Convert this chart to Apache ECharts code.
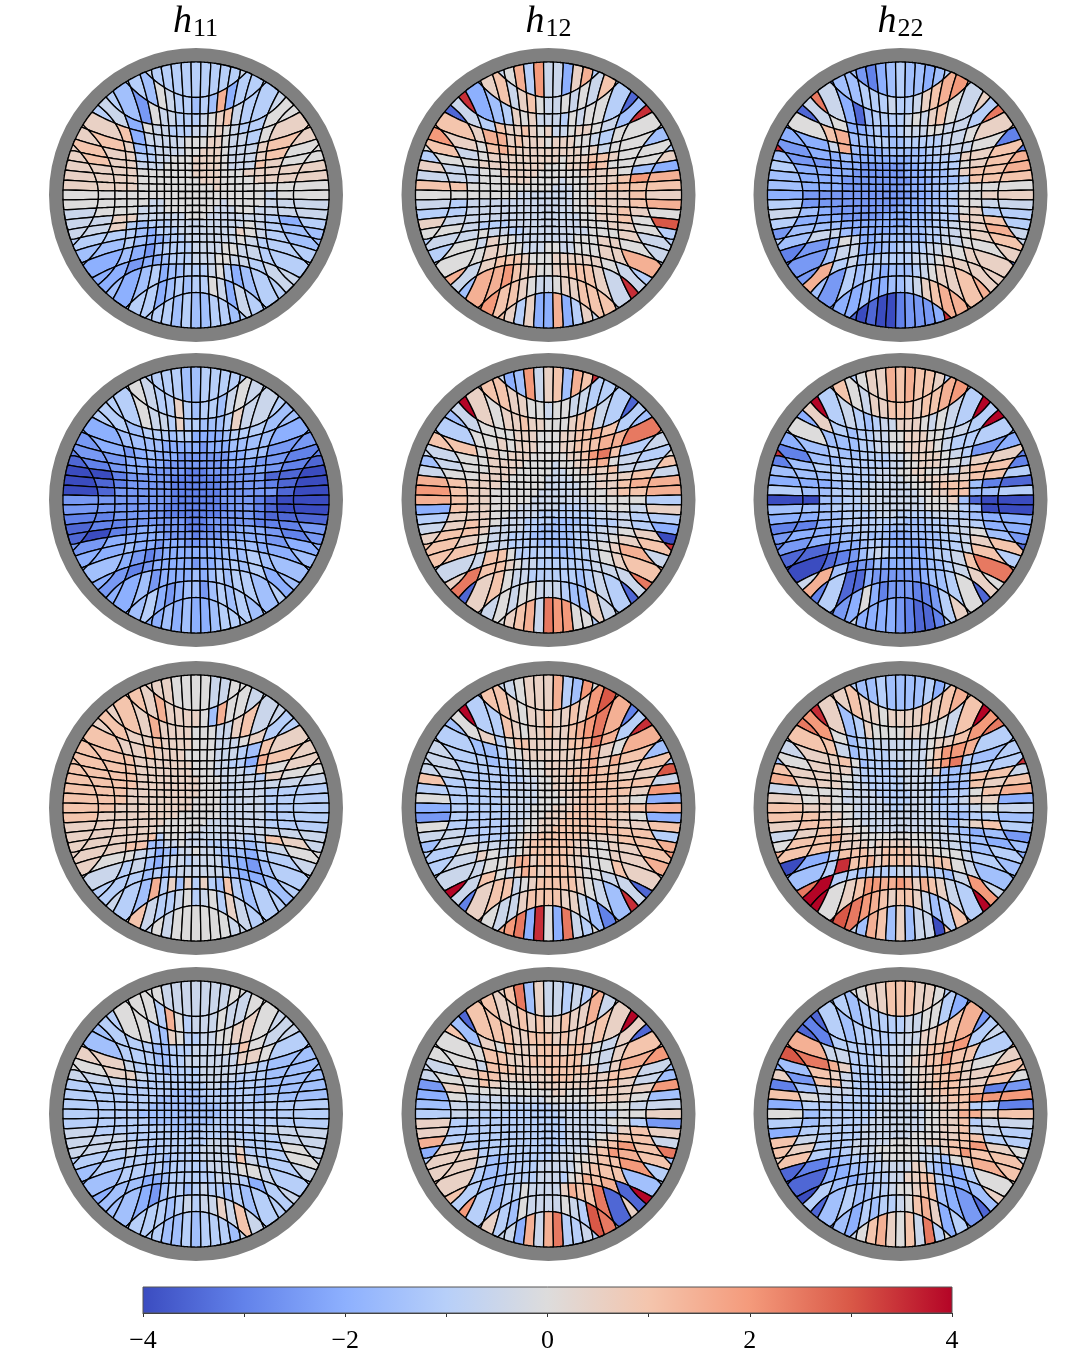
<!DOCTYPE html>
<html>
<head>
<meta charset="utf-8">
<script src="https://cdn.jsdelivr.net/npm/echarts@6/dist/echarts.min.js"></script>
<style>
  html, body { margin: 0; background: #fff; }
  #chart { width: 1065px; height: 1349px; }
</style>
</head>
<body>
<div id="chart"></div>
<script>
// cell values, rows top to bottom, left to right, only the cells inside the disk
// one letter per cell: a = -4, b = -3.5 ... i = 0 ... q = 4
const levels = 'abcdefghijklmnopq'

const h11_a = ['hgggggggggh','ggfihggfgfleggg','gfdihhggghijkhggh','gheihhggghhijihggii','jjkehhhhhiiijjihhgijk','jkjfghhhhiijjjihhhjkj',
  'jkjjgghhiiijjjjihhhjkii','jkjjhhhiiiijjjjihhhkjii','jjjjiiiiiiijjjjiiijjjjj','jjjjiiiiiiiijjjiiiijjjj','jjjjiiiiiiiiiijiiiiiiii','iiiiiiiiiiiiiiiiiiiihii',
  'iiiiihhiiiiiiiihiiiihhh','hiiihhhiiiiiiihhhiihhhh','hhjjhhhhhhiiihhhhhhhgeg','hhjgfggghhhhhhhhhhihgff','ggggfeggghhhhhhhhjihgff',
  'ffgfeefgghhhhhhhihggg','fefedfgggghhhhiihhggh','eedeefggghhhiihhghh','fefgeffggghigefgg','fggefgfggihehgg','gggfgffggfg']
const h12_a = ['hilgmhhejlg','gjkhjkihhihihkg','pefgjijhhhgihiigb','bhgkjjkjijhhijjihfp','lkjlljkjjjijjjiihgiii','mjiklkjjjjjjjjjijhiif',
  'ikhijjjjjjjjjijjjkkjiig','giijjjjjjjjiiijjjlkiiij','jhhiijjjjjiiiiiijjjjife','hhhiiijjjiiiihiiijjjkml','kkiiiiiiiiiihhhiijjkkkk','iiiiiiihhhhhhhhiiijjjkj',
  'hghhhhhhhhhhhhhiijjjjkl','gghhhhhhhhhhhhhiiijjkji','jhhhhhhhhhhhhhhhiijjkio','iihggghhhhhhhhhhiiijjig','ghhihhgghhhhhhhhhiiijhg',
  'gihjiihhhhhhhhiiijjih','hiijjiihhhiihhiiijjlh','lhjkkkjiiijjjjjjihg','fllmkjjiijjkkkjhp','lmkkjihhijjkkkh','kjgjeelegjh']
const h22_a = ['fdcefgffefg','cffggghgghjklmj','nhebfgggghihjkihj','bhieefgffghhhiihhgn','diklfffggffggggghhijk','eehlfeeeffffffgghhhic',
  'pdeefeeeeeeeefffgggjjkc','fddeeeddddddeefffggijkl','geeeedddddddeeefffgjkkl','feeedddddddddeeefffgkkk','feeeddddddddeeeffgghiii','eddddddddddddeeeffgiijj',
  'gdddddddddddeeeffggiihh','hfeddddddddeeeeffggijgg','geeedddddeeeefffgggjjkg','dfffeeeeeeeeefffgghijlh','gfhhfeeeeeeffffgghhijkh',
  'cdfiheefffffffgghhiij','cdfhheeeffgggghhiijjc','dlghfgggggghhhijjjj','fdgfgfefffghijjkl','feefeeffghjkllm','babaacdddep']

const h11_b = ['ggggffggggg','hihggjgfggfhihg','ggihhgjggfffgjhhg','ggfgggfggeeeefgggff','eeffffeeeeedeeeffffee','dedefeeedddddddeeffdd',
  'cddeeeedddddddddeeeddcc','bcdeedddddcccddddddedcb','aacdddddcccccccdddddbba','abcdddddcccccccdddddcba','abddddddcccccccddddddba','ddddddddcccccccddddcbaa',
  'dddddddcccccccccdddcbaa','ccdddddccccccccddddcbbb','bccdddddddcccddddddcccd','bacdeeddddccccdddeeedcd','ddeeeeeddddcdddeeeeedee',
  'eefeedeeedddeeefffeef','efedcdeeeeeeeefffgffe','edcdeeeeedeeffgfgef','eefdeeeefefgfggfg','efgedeffdfgfgfg','eefefeefggg']
const h12_b = ['hefmhjkflkp','gkkjjiihiihhggg','qjijjkjjiiijkkhgb','fhiiijjjiiijjkklkgf','hgiijijjjiiijjkkkllnk','kkijijjjiiiiijjkmnkgh',
  'hhiijjjjiiiihiijjklihgi','fhiijjjiiiiihhiijjjkhhk','hiijjjiiiiihhhhiiijjjkh','lkjjjiiiiiihhhhhiijjkll','mkjjiiiiiihhhhhhiiijkkl','lkjjiiiiihhhhhhhhiiiiig',
  'ekjjiiihhhhhhggghhhiihj','gjjjiihhhhgggggggghhhgg','hjkjihhhggggffffgggghge','jkkjhhhhggfffffggghhija','kkjihhgggffffffgghhijkp',
  'kkihhggggfffffgghijlh','hhhkkigggggfffgghijkl','jnkkjihhggggggghhhn','bjkihhggggggfghgb','hhihiihhhgffjhh','ijklhnmmiig']
const h22_b = ['gijjlklkkjg','jkihjjkkkjkklmh','qghgfghhjjjihihgq','ejgfgghhiijjjiihhgq','gifffgghhiijjjjihgggf','efgffgggghhijjjjihgde',
  'pcffgggggghhiijjjiihjjc','cfgggggghhhiijjiiihjkkc','fffggggghhhhiijjjjjjkkg','eeefggghhhhhhiiijkkkfcb','gffggghhhhhhhhiijjkkffg','aaffgghhhhhhhhhiiijfbaa',
  'fffgggghhhhhhhhiiiigfaa','eeffgggghhhggggghhhgfee','ccefggggggggfffgggghgee','deeffggggfffffffgghhifd','cdeeffgfffeeeffffgghjkb',
  'bbdeefggfeeeeeffgghkg','aabcdfghgfeeeefgghknl','hlfcddfeeeeeeffghji','cgbbeddddddeffgib','bdeiecdddccdgjh','heeeedcbbcg']

const h11_c = ['jjjiiiihhii','jkjljjjjifliihh','jkjljjjjiiihhjkhh','jkjjkjjjjiiihhhijgg','kkjjkjjjjiiiihhhgfkji','kkkjjjjjjjiiihhggelkj',
  'kkkkjjjjjjjiiihhhhgkijj','kkkkjjjjjjjjiiihhhhgjii','kkkkjjjjjjjjiiihhhhhhhh','kkkjjjjjjjjjiiihhhhhggg','kkkjjjjjjjjiiiihhhhhggg','kkjjjjjjjjjiiiihhhhhggg',
  'kjjjjjjjjiiiiiihhhhhggg','jjjjjjjiiiiiihhhhhhhggg','jjjjjjiiiiiihhhhhhhhhhh','jjjjjkgiiihhhhhhhhghkjh','jjjkkffhhihhhgggggfghii',
  'jiihgeffhhihhgfffeggh','hhghfeghhghhhhffedfgh','gggfgfghhhhhhgfeefg','hgflgjfjgjgfkgfgg','ikhgghighigjhgh','hihiiiiiihh']
const h12_c = ['hhijjjlgfmi','dkkjijjkjjkjmoj','qggkjijjkjjklmnlc','fijgikkjjjjjkklnlgp','hgffgiijjjjjjjkkljilg','hggfgghiiijjjjjkljlkf',
  'hhggggghhiijjjkkklkkjkg','hhgggggghhiijjjkkkkkjjo','kggggghhhhiijjjjkkkkkkh','gggggghhhhiiijjjkkkkkjm','igggghhhhhiiiijjkkkkjie','eggggghhhiiijjjkkkkkkkl',
  'dggggghhhiijjjkkkkkjjie','iggggghhiijjjkkkkkkkjjk','hhgggghhiijjkkkkkkkkkkg','fhhggghijjkkkkkkjjjjkkl','ggihhhhijkkkkkkjjiijjkm',
  'ghjihhijkkkkkkjjiijjl','hhhiijlljkkkkjjiiikjh','qhkihjlkjkkkkjiihhb','cjkkhijkkkkkjihfp','nihhjkkkkjjhfck','lmnepienhgi']
const h22_c = ['gffgffffgeg','kjkjjijjjjkjklk','pjfgjiiiijjiiihkq','nmifgghhhhhhhijjkmn','hkkhfgggghhhhhikmmlgg','hjjkifggggghhhjkmngfg',
  'fijjjhggggghhhhhjfffggp','kjjjihgggggghhhhggfgkkh','ljjjihhggggghhhhgfffkjk','hiiihhhhggggghhhgfggikl','jijihhhhhgggghhhggghjje','kjjiihhhhhgghhhhgggghih',
  'kkjjihhhhhhhhhhhhgffggf','jkkjiihhhhhhhhhhhhfhjkg','hjkkjiihhhhhhhhhhhgfefd','ikkljjiiiiiiiiiihhhgfef','lkkkjjjijjjjjiiiihhgfge',
  'aegkkkjjkkkkjjjiiihgf','ffgpkkljkkkkjjjkkihfe','nqggfgggghhggggfhmh','qijkmmllmljlkjhgq','qonmlkjkkjhfgkl','hflkfjfhhak']

const h11_d = ['iihhhhhhhii','hiiglighhhihhii','giigfjigghhiijjih','fgggffggghhhhihkihh','hfgggffgghhhhhhhjjigg','jjhgggfgggghhhhhhhgff',
  'iijjhggggggghhhhhgggfff','hhhhggggggggghhgggggfff','ggggggggffffgggggggffff','ggggggfffffffggggggfgff','gggggffffffffffgggggggg','ggggfffffffffffgggggggg',
  'gggggfffffffffggggggggg','hgggggggffffgggggggghhh','hhhggggggggggggghgggghh','hhhhggggggggghhhhhgggih','ggghgfgggggghhhhhjgggih',
  'fgggggfgggghhhhhkhggh','efggfgfggggghhhhiihgh','effeefgggggghhhgegh','ffedfggfghggfgfgg','ggggfghghhjhkhg','ggffgfgggfh']
const h12_d = ['jknfjhhghgl','kkjjkjkjjkjjlhi','bkkkjjkkkjkjkjkjq','kfjikjjjkkkjkkkihjb','iiikkjjjkkkkkkkiihjkj','iihkkkjjjjkkkkkkjhjlm',
  'hhjkkjjjjjjjkkkjjjjkkhf','hiikjiiiiijjjjjjjjjkjhf','djiiiiiiiiiijjiiijjjjjm','eihhhhhhhhhiiiiiiijjjif','fhhhhhgggggghhhhhiiiihh','ghhgggggggggghhhhhhhiij',
  'jggggggggggggghhhhhiigd','jggggggggggggghhhhhhjkj','lggggggggggggghhhhijkkh','ejgggggggggggghhhijkmkn','gjjgggggggggghhhhjkmlkf',
  'jjhffgggggghhhiijkkmg','kjgffgggghhhhhijkkkfg','kgffgggghhhgijlklbq','mgfggihhhhjlkknbj','ejgfihhhhihgoni','hhelhlngghg']
const h22_d = ['iijjkkkjjig','fgfggggghhiiged','bgfggggghhhjjkkld','bcgggggghhhijkklmgh','klhhggghhhhijjkkmkkgl','onljgggghhhiijjkkkjij',
  'efkjhgggghhhiijjkkljjkk','jdkkhggggghhhijjkkkjjki','cfhhhggggghhhiijjkkkkcd','kihhggggghhhhiiijjkkmmm','eggggggghhhhhhhiijjkggc','ifgggggghhhhhhhiijjlljk',
  'gfggggghhhhhhhhiijjkghh','eggggghhhhhhhhhiijjkhhg','khgggghhhhhhhiiiijjkkgg','kjggghhhhhiiiiijjjkkmji','jkgfghhhiiiiiihhhjkmkkh',
  'bcefgghhiiiiihhgfijlk','abeeffgghhhhjjgfeegij','agfefggghhjjkkgfefj','bfgffgghiijkkfedb','cfegfgghikljegh','hikljikhngi']

const panelRows = [
  [h11_a, h12_a, h22_a],
  [h11_b, h12_b, h22_b],
  [h11_c, h12_c, h22_c],
  [h11_d, h12_d, h22_d]
]
const titleNums = ['11', '12', '22']
const tickLabels = ['−4', '−2', '0', '2', '4']
const coolwarm = ['#3b4cc0', '#6282ea', '#8db0fe', '#b7cff9', '#dddcdc', '#f4c5ad', '#f49a7b', '#d95847', '#b40426']

// mesh lines, in disk radii: where each line crosses the axis and where it meets the rim
const lineAxis = [3.5, 10.5, 17.5, 24.5, 31.5, 39, 47, 58, 69, 81, 97.5].map(v => v / 133)
const lineRim = [5, 15, 25, 35, 45, 56, 68, 83, 98, 113, 123].map(v => v / 133)
const linePower = [2, 2, 2, 2.2, 2.4, 2.4, 2.4, 2.4, 4, 2.4, 2]
const lineReach = lineRim.map(v => Math.sqrt(1 - v * v))
const OUTER = 1.3

// k = +-1..+-12, +-12 is a straight line outside the disk
function curve(k, t) {
  const n = Math.abs(k) - 1
  const s = Math.sign(k)
  if (n >= 11) return s * OUTER
  const a = Math.min(Math.abs(t), lineReach[n]) / lineReach[n]
  return s * (lineAxis[n] + (lineRim[n] - lineAxis[n]) * Math.pow(a, linePower[n]))
}

function corner(kx, ky) {
  let x = curve(kx, 0)
  let y = curve(ky, 0)
  for (let it = 0; it < 80; it++) {
    x = 0.7 * x + 0.3 * curve(kx, y)
    y = 0.7 * y + 0.3 * curve(ky, x)
  }
  return [x, y]
}

function lineIndex(c) {
  // boundary to the left of cell c (0..22) is c, right is c + 1, in 0..23
  return c < 12 ? c - 12 : c - 11
}

function clampToDisk(p) {
  const r = Math.hypot(p[0], p[1])
  return r > 1 ? [p[0] / r, p[1] / r] : p
}

function cellOutline(col, row) {
  const x0 = lineIndex(col), x1 = lineIndex(col + 1)
  const y0 = -lineIndex(row), y1 = -lineIndex(row + 1)
  const a = corner(x0, y0), b = corner(x1, y0), c = corner(x1, y1), d = corner(x0, y1)
  const pts = []
  const steps = 10
  for (let i = 0; i < steps; i++) {
    const f = i / steps
    const tx = a[0] + (b[0] - a[0]) * f
    pts.push([tx, curve(y0, tx)])
  }
  for (let i = 0; i < steps; i++) {
    const f = i / steps
    const ty = b[1] + (c[1] - b[1]) * f
    pts.push([curve(x1, ty), ty])
  }
  for (let i = 0; i < steps; i++) {
    const f = i / steps
    const tx = c[0] + (d[0] - c[0]) * f
    pts.push([tx, curve(y1, tx)])
  }
  for (let i = 0; i < steps; i++) {
    const f = i / steps
    const ty = d[1] + (a[1] - d[1]) * f
    pts.push([curve(x0, ty), ty])
  }
  return pts.map(clampToDisk)
}

const renderCell = (params, api) => {
  const outline = cellOutline(api.value(0), api.value(1))
  return {
    type: 'polygon',
    shape: { points: outline.map(p => api.coord(p)) },
    style: { fill: api.visual('color'), stroke: '#000', lineWidth: 1.3 }
  }
}

const renderRing = (params, api) => {
  const c = api.coord([0, 0])
  const unit = api.size([1, 0])[0]
  return {
    type: 'ring',
    shape: { cx: c[0], cy: c[1], r: unit * 1.105, r0: unit },
    style: { fill: '#808080' }
  }
}

const centersX = [196, 548.5, 900.5]
const centersY = [195, 500, 808, 1114]
const panelSize = 294

const grids = []
const xAxes = []
const yAxes = []
const series = []
const cellSeries = []

panelRows.forEach((rowPanels, r) => {
  rowPanels.forEach((rows, c) => {
    const idx = grids.length
    grids.push({ left: centersX[c] - panelSize / 2, top: centersY[r] - panelSize / 2, width: panelSize, height: panelSize })
    xAxes.push({ gridIndex: idx, type: 'value', min: -1.105, max: 1.105, show: false })
    yAxes.push({ gridIndex: idx, type: 'value', min: -1.105, max: 1.105, show: false })
    const data = []
    rows.forEach((text, row) => {
      const pad = (23 - text.length) / 2
      text.split('').forEach((ch, k) => {
        data.push([k + pad, row, -4 + 0.5 * levels.indexOf(ch)])
      })
    })
    cellSeries.push(series.length)
    series.push({
      type: 'custom', xAxisIndex: idx, yAxisIndex: idx, coordinateSystem: 'cartesian2d',
      renderItem: renderCell, data, clip: false, silent: true, encode: { x: 0, y: 1 }, z: 2
    })
    series.push({
      type: 'custom', xAxisIndex: idx, yAxisIndex: idx, coordinateSystem: 'cartesian2d',
      renderItem: renderRing, data: [[0, 0]], clip: false, silent: true, z: 1
    })
  })
})

// colour bar
const barIdx = grids.length
grids.push({ left: 143, top: 1287, width: 809, height: 26, outerBoundsMode: 'none' })
xAxes.push({
  gridIndex: barIdx, type: 'value', min: -4, max: 4, interval: 1,
  axisLine: { show: true, onZero: false, lineStyle: { color: '#333', width: 1 } },
  axisTick: { show: true, length: 4, lineStyle: { color: '#333', width: 1 } },
  splitLine: { show: false },
  axisLabel: {
    margin: 15, fontFamily: 'Liberation Serif', fontSize: 26, color: '#000',
    formatter: v => (v % 2 === 0 ? tickLabels[(v + 4) / 2] : '')
  }
})
yAxes.push({ gridIndex: barIdx, type: 'value', min: 0, max: 1, show: false })
series.push({
  type: 'custom', xAxisIndex: barIdx, yAxisIndex: barIdx, coordinateSystem: 'cartesian2d', silent: true,
  data: [[-4, 4]],
  renderItem: (params, api) => {
    const a = api.coord([api.value(0), 1])
    const b = api.coord([api.value(1), 0])
    return {
      type: 'rect',
      shape: { x: a[0], y: a[1], width: b[0] - a[0], height: b[1] - a[1] },
      style: {
        fill: new echarts.graphic.LinearGradient(0, 0, 1, 0, coolwarm.map((color, i) => ({ offset: i / (coolwarm.length - 1), color }))),
        stroke: '#555', lineWidth: 1
      }
    }
  }
})

const titles = titleNums.map((num, c) => ({
  text: '{h|h}{s|' + num + '}',
  left: centersX[c] - 28,
  top: -3,
  textStyle: {
    fontWeight: 'normal',
    rich: {
      h: { fontFamily: 'Liberation Serif', fontStyle: 'italic', fontWeight: 'normal', fontSize: 38, color: '#000' },
      s: { fontFamily: 'Liberation Serif', fontWeight: 'normal', fontSize: 26, color: '#000', padding: [14, 0, 0, 1] }
    }
  }
}))

const chart = echarts.init(document.getElementById('chart'), null, { renderer: 'canvas' })
chart.setOption({
  animation: false,
  backgroundColor: '#fff',
  title: titles,
  grid: grids,
  xAxis: xAxes,
  yAxis: yAxes,
  visualMap: {
    show: false, type: 'continuous', min: -4, max: 4, dimension: 2,
    seriesIndex: cellSeries, inRange: { color: coolwarm }
  },
  series
})
</script>
</body>
</html>
